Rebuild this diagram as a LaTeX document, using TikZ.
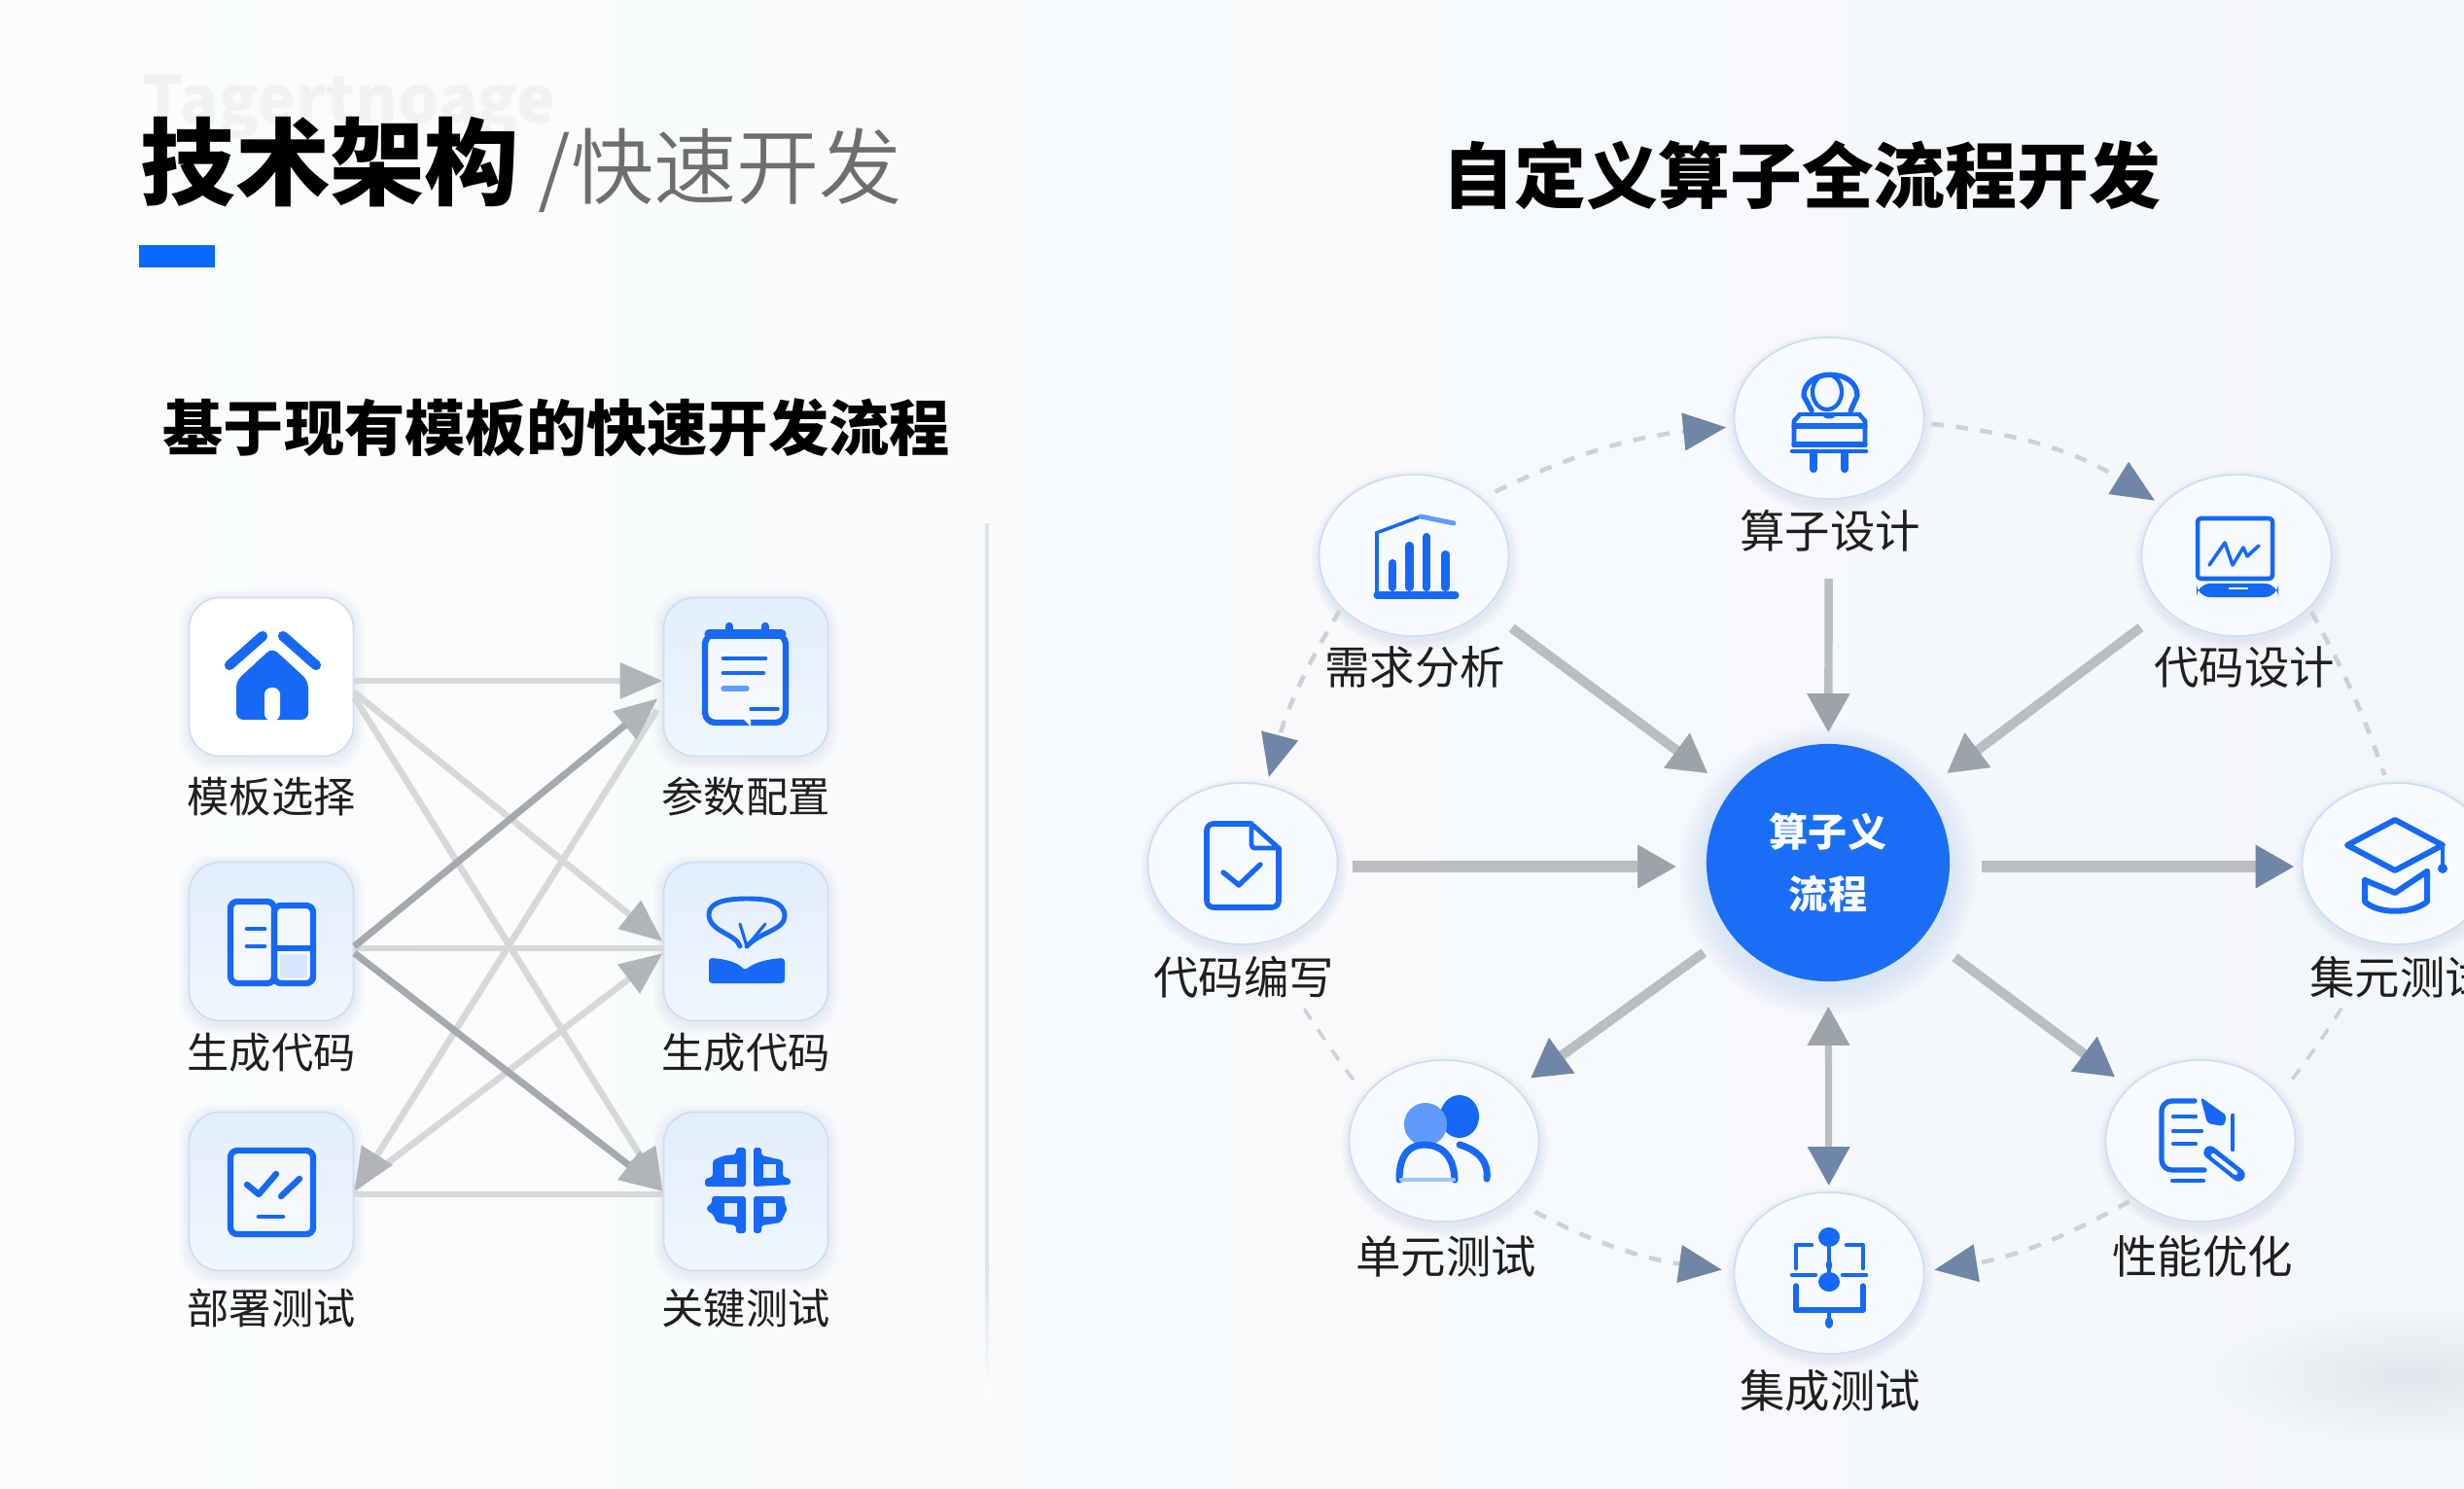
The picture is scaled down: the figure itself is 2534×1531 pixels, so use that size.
\documentclass[tikz,border=0pt]{standalone}
\usepackage{fontspec}
\usepackage{xcolor}
\setmainfont{Noto Sans CJK SC}
\newfontfamily\heavycjk{Noto Sans CJK SC Black}
\newfontfamily\lightcjk{Noto Sans CJK SC DemiLight}
\usetikzlibrary{arrows.meta,shapes.geometric,positioning,calc}
\definecolor{pagel}{RGB}{250,252,253}
\definecolor{pager}{RGB}{244,247,250}
\definecolor{smudge}{RGB}{223,230,235}
\definecolor{ghost}{RGB}{240,242,244}
\definecolor{subgrey}{RGB}{110,110,110}
\definecolor{barblue}{RGB}{10,105,250}
\definecolor{iconblue}{RGB}{22,104,246}
\definecolor{iconpale}{RGB}{96,155,252}
\definecolor{cardtop}{RGB}{226,238,252}
\definecolor{cardbot}{RGB}{240,246,253}
\definecolor{rimblue}{RGB}{205,222,246}
\definecolor{shadeblue}{RGB}{120,150,200}
\definecolor{orbitfill}{RGB}{247,250,254}
\definecolor{hubblue}{RGB}{26,110,246}
\definecolor{divgrey}{RGB}{222,227,233}
\definecolor{fanlight}{RGB}{214,216,218}
\definecolor{fandark}{RGB}{166,169,172}
\definecolor{fantip}{RGB}{178,181,184}
\definecolor{shaftgrey}{RGB}{186,189,193}
\definecolor{tipgrey}{RGB}{156,163,171}
\definecolor{tipslate}{RGB}{112,134,166}
\definecolor{dashgrey}{RGB}{207,210,213}

\begin{document}
\begin{tikzpicture}[x=0.01cm,y=-0.01cm,
    card/.style={draw=rimblue, line width=0.5pt, rounded corners=9pt, minimum width=1.69cm, minimum height=1.63cm, inner sep=0pt},
    cardwhite/.style={card, fill=white},
    cardtint/.style={card, top color=cardtop, bottom color=cardbot},
    orbit/.style={ellipse, draw=rimblue, line width=0.5pt, fill=orbitfill, minimum width=1.95cm, minimum height=1.66cm, inner sep=0pt},
    caption/.style={font=\fontsize{12.3}{15}\selectfont, text=black!88, inner sep=0pt},
    fan/.style={line width=1.9pt, draw=fanlight},
    fantipped/.style={fan, -{Triangle[length=0.44cm,width=0.36cm,color=fantip]}},
    flow/.style={line width=2.8pt, draw=shaftgrey, -{Triangle[length=0.4cm,width=0.42cm,color=tipgrey]}},
    flowslate/.style={flow, -{Triangle[length=0.4cm,width=0.42cm,color=tipslate]}},
    ring/.style={line width=1.3pt, draw=dashgrey, dash pattern=on 3.6pt off 3.6pt},
    ringtipped/.style={ring, -{Triangle[length=0.44cm,width=0.38cm,color=tipslate]}},
    icon/.style={draw=iconblue, line width=1.8pt, line cap=round, line join=round},
    iconthin/.style={icon, line width=1.3pt}]

  \useasboundingbox (0,0) rectangle (2534,1531);

  % Page
  \shade[left color=pagel, right color=pager] (0,0) rectangle (2534,1531);
  \shade[inner color=smudge, outer color=pager] (2480,1415) ellipse (210 and 72);

  % Headings
  \node[anchor=west, inner sep=0pt, font=\bfseries\fontsize{19}{22}\selectfont, text=ghost] (ghostline) at (146,110) {Tagertnoage};
  \node[anchor=west, inner sep=0pt, font=\heavycjk\fontsize{27.7}{30}\selectfont, text=black] (title) at (144,167) {技术架构};
  \node[anchor=west, inner sep=0pt, font=\lightcjk\fontsize{24.2}{26}\selectfont, text=subgrey] (subtitle) at (553,175) {/快速开发};
  \fill[barblue] (143,252) rectangle (221,275);
  \node[anchor=west, inner sep=0pt, font=\bfseries\fontsize{17.7}{20}\selectfont, text=black] (leftlabel) at (167,440) {基于现有模板的快速开发流程};
  \node[anchor=center, inner sep=0pt, font=\bfseries\fontsize{21}{24}\selectfont, text=black] (rightlabel) at (1853,180) {自定义算子全流程开发};

  % Divider
  \fill[divgrey] (1013,538) rectangle (1017,1300);
  \shade[top color=divgrey, bottom color=pagel] (1013,1300) rectangle (1017,1435);

  % Template cards
  \foreach \name/\cx/\cy/\ly/\look/\txt in {tpl/279/696/819/cardwhite/模板选择, gen/279/968/1082/cardtint/生成代码, dep/279/1225/1345/cardtint/部署测试,
                                            cfg/767/696/819/cardtint/参数配置, code/767/968/1082/cardtint/生成代码, key/767/1225/1345/cardtint/关键测试} {
    \foreach \g in {2,4,...,10} {
      \fill[shadeblue, opacity=0.025, rounded corners=10pt] (\cx-85-\g,\cy-82-\g+3) rectangle (\cx+85+\g,\cy+82+\g+3);
    }
    \node[\look] (\name) at (\cx,\cy) {};
    \node[caption] (\name-text) at (\cx,\ly) {\txt};
  }

  % Template connectors
  \foreach \src/\sy/\dst/\dy/\kind in {gen/7/code/7/fan, dep/3/key/3/fan,
                                       tpl/4/cfg/4/fantipped, tpl/16/code/0/fantipped, tpl/21/key/0/fantipped,
                                       dep/-3/code/12/fantipped} {
    \draw[\kind] ($(\src.east)+(0,\sy)$) -- ($(\dst.west)+(0,\dy)$);
  }
  \draw[fantipped] ($(cfg.west)+(-6,34)$) -- (dep.east);
  \draw[fantipped, draw=fandark, line width=2pt] ($(gen.east)+(0,5)$) -- ($(cfg.west)+(-5,22)$);
  \draw[fantipped, draw=fandark, line width=2pt] ($(gen.east)+(0,12)$) -- (key.west);

  % Template icons
  \begin{scope}[shift={(tpl.center)}]
    \draw[icon, line width=2.9pt] (-43,-12) -- (-9,-42);
    \draw[icon, line width=2.9pt] (12,-42) -- (46,-12);
    \fill[iconblue, rounded corners=2pt] (1,-30) -- (-36,4) -- (-36,44) -- (38,44) -- (38,4) -- cycle;
    \fill[white, rounded corners=2pt] (-7,45) -- (-7,11) -- (9,11) -- (9,45) -- cycle;
  \end{scope}
  \begin{scope}[shift={(gen.center)}]
    \fill[white, opacity=0.5] (-42,-41) rectangle (43,43);
    \draw[icon, rounded corners=2pt] (-42,-41) rectangle (3,43);
    \draw[icon, rounded corners=2pt] (3,-37) rectangle (43,43);
    \draw[icon] (3,7) -- (43,7);
    \fill[iconpale!25!white] (9,13) rectangle (37,37);
    \draw[iconthin] (-25,-13) -- (-7,-13) (-25,5) -- (-7,5);
  \end{scope}
  \begin{scope}[shift={(dep.center)}]
    \fill[white, opacity=0.5] (-42,-42) rectangle (43,44);
    \draw[icon, rounded corners=2pt] (-42,-42) rectangle (43,44);
    \draw[icon] (-25,-7) -- (-13,3) -- (5,-18);
    \draw[icon] (10,5) -- (29,-13);
    \draw[iconthin] (-13,26) -- (12,26);
  \end{scope}
  \begin{scope}[shift={(cfg.center)}]
    \fill[white, opacity=0.5] (-42,-44) rectangle (41,47);
    \draw[icon, rounded corners=3pt] (-42,-44) rectangle (41,47);
    \draw[icon, line width=2.4pt] (-17,-52) -- (-17,-44) (20,-52) -- (20,-44);
    \draw[icon, line width=2.6pt] (-38,-44) -- (37,-44);
    \draw[iconthin] (-23,-19) -- (20,-19) (-23,-4) -- (18,-4);
    \draw[icon, draw=iconpale, line width=1.5pt] (-23,12) -- (1,12);
    \draw[iconthin, line width=1pt] (5,33) -- (33,33);
    \fill[cardbot] (-3,43) -- (5,51) -- (5,43) -- cycle;
  \end{scope}
  \begin{scope}[shift={(code.center)}]
    \draw[iconthin, line width=1.4pt] (-6,5) .. controls (-10,-8) and (-38,-10) .. (-38,-28) .. controls (-38,-42) and (-15,-44) .. (1,-44) .. controls (20,-44) and (40,-42) .. (40,-26) .. controls (40,-12) and (15,-10) .. (1,5);
    \draw[iconthin, line width=0.9pt] (-6,-18) -- (1,5) -- (20,-18);
    \fill[iconblue, rounded corners=1pt] (-38,17) .. controls (-20,18) and (-8,22) .. (-1,30) .. controls (8,22) and (22,18) .. (40,17) -- (40,43) -- (-38,43) -- cycle;
  \end{scope}
  \begin{scope}[shift={(key.center)}]
    \fill[iconblue, rounded corners=0.8pt] (-10,-45) -- (0,-45) -- (0,-5) -- (-42,-5) -- (-42,-13) -- (-34,-15) -- (-34,-32) -- (-22,-37) -- (-10,-38) -- cycle;
    \fill[iconblue, rounded corners=0.8pt] (8,-45) -- (16,-45) -- (16,-37) -- (38,-32) -- (38,-15) -- (46,-13) -- (46,-7) -- (8,-5) -- cycle;
    \fill[iconblue, rounded corners=0.8pt] (-35,5) -- (0,5) -- (0,43) -- (-10,43) -- (-10,35) -- (-30,32) -- (-34,23) -- (-40,20) -- (-40,15) -- (-35,13) -- cycle;
    \fill[iconblue, rounded corners=0.8pt] (8,5) -- (40,5) -- (40,13) -- (43,18) -- (40,23) -- (36,32) -- (16,35) -- (16,43) -- (8,43) -- cycle;
    \foreach \wx/\wy in {-22/-28, 18/-28, -22/12, 18/12} {
      \fill[cardtop] (\wx,\wy) rectangle (\wx+13,\wy+14);
    }
  \end{scope}

  % Outer ring nodes
  \foreach \name/\cx/\cy/\lx/\ly/\txt in {algo/1881/430/1882/546/算子设计, need/1454/571/1455/686/需求分析, design/2300/571/2308/686/代码设计,
                                          write/1278/888/1279/1005/代码编写, bus/2465/888/2468/1005/集元测试,
                                          unit/1485/1173/1487/1292/单元测试, perf/2263/1173/2265/1292/性能优化, integ/1881/1309/1882/1430/集成测试} {
    \foreach \g in {2,4,...,10} {
      \fill[shadeblue, opacity=0.03] (\cx+1,\cy+5) ellipse ({97+\g} and {83+\g});
    }
    \node[orbit] (\name) at (\cx,\cy) {};
    \node[caption, font=\fontsize{13.2}{16}\selectfont] (\name-text) at (\lx,\ly) {\txt};
  }

  % Hub
  \foreach \g in {4,8,...,28} {
    \fill[hubblue, opacity=0.015] (1880,895) ellipse ({125+\g} and {122+\g});
  }
  \node[ellipse, fill=hubblue, minimum width=2.5cm, minimum height=2.44cm, inner sep=0pt, align=center, text=white,
        font=\bfseries\fontsize{11.4}{18}\selectfont] (hub) at (1880,887) {算子义\\流程};

  % Dashed ring
  \draw[ringtipped, shorten <=0.15cm, shorten >=0.08cm] (need.40) to[bend left=10] (algo.185);
  \draw[ringtipped, shorten <=0.07cm, shorten >=0.08cm] (algo.-3) to[bend left=13] (design.146);
  \draw[ringtipped, shorten <=0.03cm, shorten >=0.08cm] (need.216) to[bend right=8] (write.73);
  \draw[ring, shorten <=0.04cm, shorten >=0.08cm] (design.-36) to[bend left=5] (bus.97);
  \draw[ring, line width=1pt, shorten <=0.74cm, shorten >=0.18cm] (bus.250) to[bend left=8] (perf.30);
  \draw[ring, line width=1pt, shorten <=0.77cm, shorten >=0.11cm] (write.-69) to[bend right=6] (unit.150);
  \draw[ringtipped, shorten <=0.28cm, shorten >=0.12cm] (unit.-41) to[bend right=10] (integ.179);
  \draw[ringtipped, shorten <=0.05cm, shorten >=0.1cm] (perf.221) to[bend left=10] (integ.1);

  % Spokes
  \draw[flow, line width=2.4pt, shorten <=0.81cm, shorten >=0.11cm] (algo) -- (hub);
  \draw[flow, shorten <=0.33cm, shorten >=0.29cm] (need) -- (hub);
  \draw[flow, shorten <=0.31cm, shorten >=0.28cm] (design) -- (hub);
  \draw[flow, line width=3.2pt] ($(write.east)+(15,3)$) -- ($(hub.west)+(-30,4)$);
  \draw[flowslate, line width=3.2pt] ($(hub.east)+(32,4)$) -- ($(bus.west)+(-7,3)$);
  \draw[flowslate, shorten <=0.33cm, shorten >=0.17cm] (hub) -- (unit);
  \draw[flowslate, shorten <=0.38cm, shorten >=0.17cm] (hub) -- (perf);
  \draw[flowslate, {Triangle[length=0.4cm,width=0.42cm,color=tipgrey]}-{Triangle[length=0.4cm,width=0.42cm,color=tipslate]}, line width=2pt,
        shorten <=0.25cm, shorten >=0.06cm] (hub) -- (integ);

  % Ring icons
  \begin{scope}[shift={(algo.center)}]
    \draw[icon, line width=1.5pt] (-18,-8) -- (-26,-23) .. controls (-26,-52) and (29,-52) .. (29,-23) -- (22,-7);
    \draw[iconthin, line width=1.2pt] (-2,-27) ellipse (15 and 18);
    \fill[iconblue] (0,-2) ellipse (6 and 2.5);
    \draw[iconthin] (-36,28) -- (-36,3) -- (-30,-4) (37,28) -- (37,3) -- (31,-4);
    \draw[iconthin, line width=1pt] (-30,-4) -- (31,-4);
    \draw[icon, line width=1.5pt] (-36,8) -- (37,8) (-36,27) -- (37,27);
    \draw[iconthin] (-38,34) -- (38,34);
    \draw[icon, line width=2.4pt] (-16,36) -- (-16,52) (16,36) -- (16,52);
  \end{scope}
  \begin{scope}[shift={(need.center)}]
    \foreach \bx/\by in {-22/8, -4.5/-10, 13/-19, 32.5/-1} {
      \draw[icon, line width=2.3pt] (\bx,\by) -- (\bx,33);
    }
    \draw[iconthin] (-38,-23) -- (-38,41);
    \draw[icon, line width=2pt] (-38,41) -- (43,41);
    \draw[iconthin, line width=1pt] (-36,-24) -- (7,-40);
    \draw[icon, draw=iconpale, line width=1.4pt] (7,-40) -- (41,-33);
  \end{scope}
  \begin{scope}[shift={(design.center)}]
    \draw[iconthin, rounded corners=1pt] (-40,-38) rectangle (37,24);
    \draw[iconthin, line width=1pt] (-28,10) -- (-12,-13) -- (-4,10) -- (7,-8) -- (11,1) -- (23,-10);
    \fill[iconblue, rounded corners=4pt] (-41,29) rectangle (43,43);
    \draw[white, line width=0.6pt] (-8,34) -- (12,34);
  \end{scope}
  \begin{scope}[shift={(write.center)}]
    \draw[iconthin, line width=1.6pt, rounded corners=2pt] (9,-41) -- (-37,-41) -- (-37,45) -- (37,45) -- (37,-16);
    \draw[iconthin, line width=1.4pt, rounded corners=1pt] (9,-41) -- (9,-16) -- (37,-16) -- cycle;
    \draw[iconthin, line width=1.5pt] (-20,9) -- (-4,22) -- (18,1);
  \end{scope}
  \begin{scope}[shift={(bus.center)}]
    \draw[icon, line width=1.7pt] (-2,-45) -- (-51,-19) -- (-2,7) -- (47,-19) -- cycle;
    \draw[icon, line width=1.7pt] (-33,17) -- (-33,39) .. controls (-20,52) and (16,52) .. (31,39) -- (31,8);
    \draw[icon, line width=1.7pt] (-33,17) -- (-2,30) -- (31,8);
    \draw[iconthin] (47,-19) -- (47,3);
    \fill[iconblue] (47,5) circle (5);
  \end{scope}
  \begin{scope}[shift={(unit.center)}]
    \fill[iconblue] (16,-25) ellipse (20 and 22);
    \fill[iconpale] (-19,-17) ellipse (22 and 22);
    \draw[icon, line width=2pt] (-46,40) .. controls (-46,10) and (-32,4) .. (-20,4) .. controls (-6,4) and (10,12) .. (11,40);
    \draw[icon, draw=iconpale!60!white, line width=1.2pt] (-44,40) -- (10,40);
    \draw[icon, line width=2pt] (16,4) .. controls (36,10) and (46,22) .. (44,39);
  \end{scope}
  \begin{scope}[shift={(perf.center)}]
    \draw[iconthin, line width=1.5pt, rounded corners=3pt] (-6,-41) -- (-40,-41) -- (-40,30) -- (4,30);
    \draw[iconthin, line width=1.2pt] (-28,-25) -- (-5,-25) (-28,-10) -- (1,-10) (-28,3) -- (-5,3) (-29,41) -- (3,41);
    \draw[iconthin, line width=1.3pt] (33,-26) -- (33,9);
    \fill[iconblue, rounded corners=1pt] (0,-45) -- (27,-26) -- (24,-15) -- (7,-18) -- cycle;
    \draw[iconblue, line width=3.8pt, line cap=round] (10,12) -- (39,35);
    \draw[white, line width=1.2pt, line cap=round] (13,15) -- (36,33);
  \end{scope}
  \begin{scope}[shift={(integ.center)}]
    \draw[iconthin, line width=1pt] (0,-37) -- (0,9) (0,38) -- (0,51);
    \fill[iconblue] (0,-37) ellipse (11 and 10);
    \fill[iconblue] (0,-8) ellipse (3 and 6);
    \fill[iconblue] (0,9) ellipse (11 and 10);
    \fill[iconblue] (0,51) ellipse (4 and 6);
    \draw[iconthin] (-18,-29) -- (-34,-29) -- (-34,-5);
    \draw[iconthin] (18,-29) -- (35,-29) -- (35,-5);
    \draw[iconthin] (-38,2) -- (-14,2) (14,2) -- (38,2);
    \draw[iconthin, line width=1.5pt] (-34,13) -- (-34,38) -- (35,38) -- (35,13);
  \end{scope}

\end{tikzpicture}
\end{document}
